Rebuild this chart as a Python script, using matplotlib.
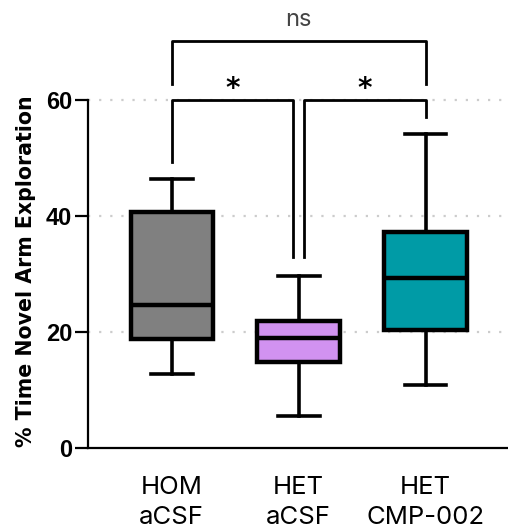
import matplotlib
matplotlib.use("Agg")
import matplotlib.pyplot as plt

groups = ["HOM\naCSF", "HET\naCSF", "HET\nCMP-002"]
medians = [24.7, 19.0, 29.3]
q1 = [18.8, 14.8, 20.3]
q3 = [40.7, 21.8, 37.3]
wlo = [12.8, 5.6, 10.9]
whi = [46.4, 29.7, 54.1]
colors = ["#808080", "#D192F0", "#009BA6"]
yticks = [0, 20, 40, 60]

fig = plt.figure(figsize=(5.08, 5.32), dpi=100)
ax = fig.add_axes([88/508, 84/532, 420/508, 448/532])

positions = [0, 1, 2]
stats = []
for i in range(3):
    stats.append(dict(med=medians[i], q1=q1[i], q3=q3[i], whislo=wlo[i], whishi=whi[i], fliers=[]))

bp = ax.bxp(stats, positions=positions, widths=0.65, patch_artist=True, showfliers=False,
            boxprops=dict(linewidth=3.2, edgecolor="black"),
            medianprops=dict(color="black", linewidth=3.2),
            whiskerprops=dict(color="black", linewidth=2.6),
            capprops=dict(color="black", linewidth=2.6),
            capwidths=0.33, zorder=3)
for patch, c in zip(bp["boxes"], colors):
    patch.set_facecolor(c)

ax.set_xlim(-0.66, 2.65)
ax.set_ylim(0, 77.2)

for y in [20, 40, 60]:
    ax.axhline(y, color="#cccccc", linewidth=1.6, linestyle=(0, (1, 4)), zorder=1)

for s in ["top", "right"]:
    ax.spines[s].set_visible(False)
ax.spines["left"].set_bounds(0, 60)
ax.spines["left"].set_linewidth(1.6)
ax.spines["bottom"].set_linewidth(1.6)

ax.set_yticks(yticks)
ax.set_yticklabels([str(t) for t in yticks], fontfamily="Liberation Sans", fontweight="bold", fontsize=17)
ax.tick_params(axis="y", length=9.5, width=1.6, pad=2)
ax.set_xticks(positions)
ax.set_xticklabels(groups, fontfamily="Inter", fontsize=18.5, linespacing=1.38)
ax.tick_params(axis="x", length=0, pad=20)
ax.set_ylabel("% Time Novel Arm Exploration", fontfamily="DejaVu Sans", fontweight="bold",
              fontsize=14.8)
ax.yaxis.set_label_coords(-0.124, 0.395)

lw = 2.0
# ns bracket
ax.plot([0, 0, 2, 2], [62.8, 70.2, 70.2, 62.8], color="black", lw=lw, clip_on=False, zorder=4)
ax.text(1, 73.8, "ns", ha="center", va="center", fontfamily="Inter", fontsize=17, color="#444444")
# star brackets
ax.plot([0, 0, 0.955, 0.955], [49.3, 60, 60, 32.9], color="black", lw=lw, zorder=4)
ax.plot([1.045, 1.045, 2, 2], [32.9, 60, 60, 57.0], color="black", lw=lw, zorder=4)
ax.text(0.477, 61.8, "*", ha="center", va="center", fontsize=20, fontweight="bold")
ax.text(1.52, 61.8, "*", ha="center", va="center", fontsize=20, fontweight="bold")

fig.savefig("out.png", dpi=100)
